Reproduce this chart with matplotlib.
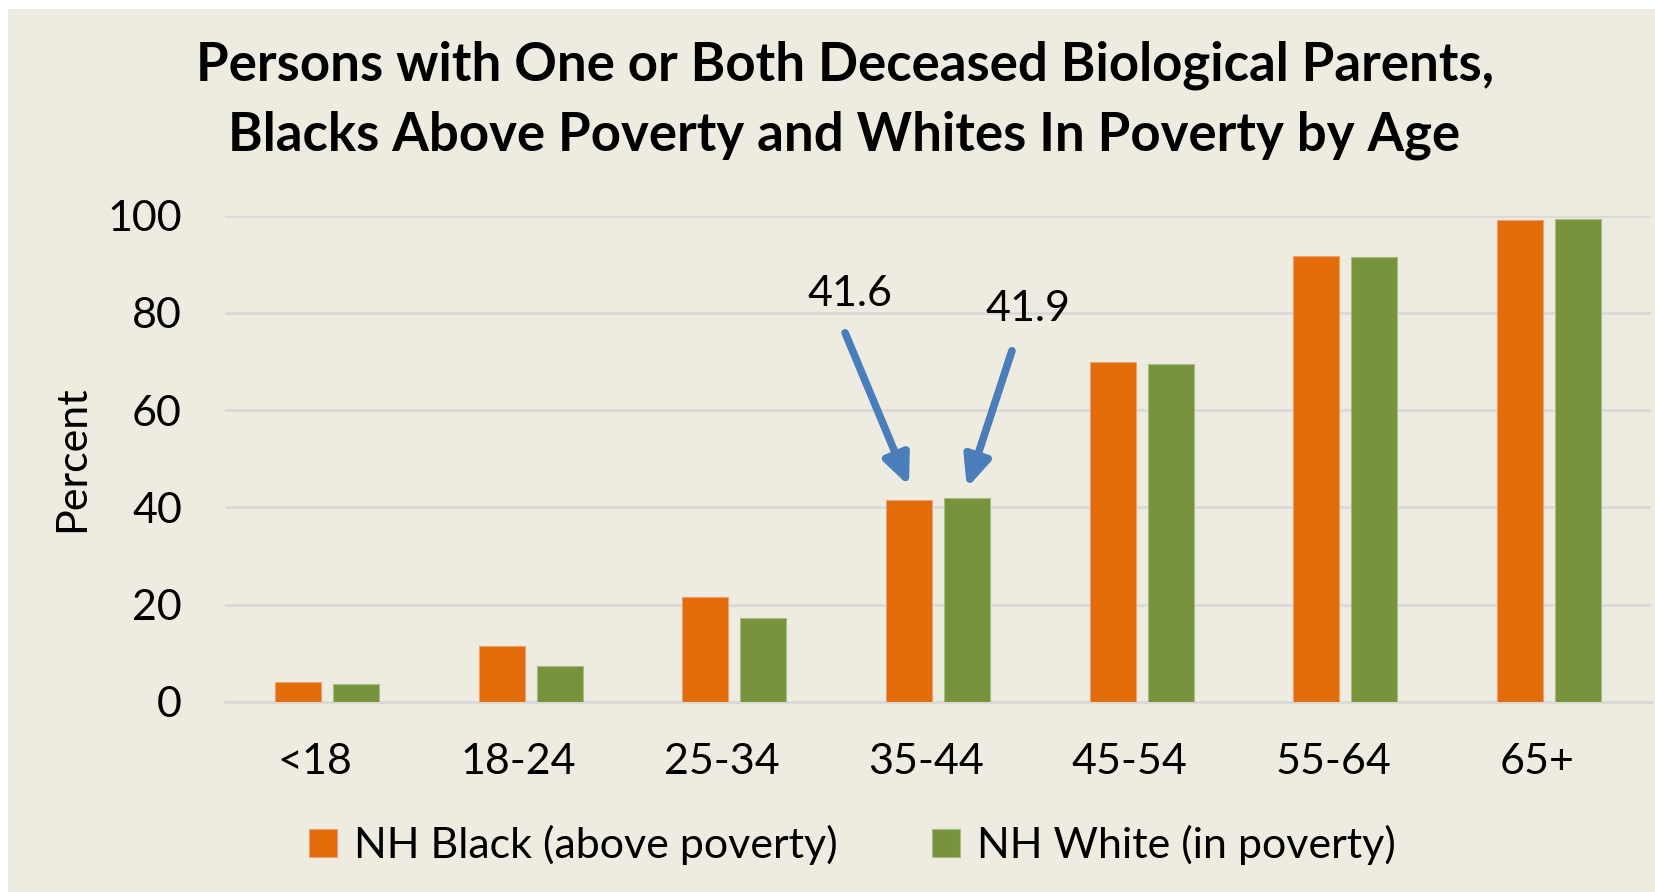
import numpy as np
import matplotlib.pyplot as plt
from matplotlib.patches import Rectangle
from matplotlib.transforms import ScaledTranslation

ages = ["<18", "18-24", "25-34", "35-44", "45-54", "55-64", "65+"]
black_above = [4.0, 11.4, 21.5, 41.6, 70.0, 91.8, 99.2]
white_poverty = [3.6, 7.4, 17.2, 41.9, 69.4, 91.6, 99.4]
yticks = [0, 20, 40, 60, 80, 100]

bg = "#EEEBE0"
orange = "#E36C0A"
green = "#77933C"
arrow_blue = "#4A7EBB"

plt.rcParams['font.family'] = ['Lato', 'DejaVu Sans']

fig = plt.figure(figsize=(16.56, 8.92), dpi=100)
fig.patch.set_facecolor("white")
# beige slide panel (thin white strip left and top)
fig.patches.append(Rectangle((8 / 1656, 0), 1, 1 - 9 / 892, transform=fig.transFigure,
                             facecolor=bg, edgecolor="none", zorder=-5))

ax = fig.add_axes([225 / 1656, 1 - 701.7 / 892, 1426 / 1656, (701.7 - 215.7) / 892])
ax.set_facecolor(bg)

x = np.arange(len(ages))
w = 46 / 203.7
off = 29 / 203.7
ax.bar(x - off, black_above, w, color=orange, edgecolor="#F0A070", linewidth=0.8,
       label="NH Black (above poverty)", zorder=3)
ax.bar(x + off, white_poverty, w, color=green, edgecolor="#A8BC80", linewidth=0.8,
       label="NH White (in poverty)", zorder=3)

ax.set_xlim(-0.5, len(ages) - 0.5)
ax.set_ylim(0, 100)
ax.set_yticks(yticks)
ax.yaxis.grid(True, color="#D9D9D9", linewidth=2, zorder=0)
ax.set_axisbelow(True)
for s in ax.spines.values():
    s.set_visible(False)
ax.spines['bottom'].set_visible(True)
ax.spines['bottom'].set_color("#D9D9D9")
ax.spines['bottom'].set_linewidth(2)
ax.tick_params(length=0)
ax.tick_params(axis='y', labelsize=31, pad=31)
ax.tick_params(axis='x', labelsize=31, pad=30)
ax.set_xticks(x)
ax.set_xticklabels(ages)
shift = ScaledTranslation(-12 / 100, 0, fig.dpi_scale_trans)
for lab in ax.get_xticklabels():
    lab.set_transform(lab.get_transform() + shift)
ax.set_ylabel("Percent", fontsize=31, labelpad=12)

# call-out arrows for 35-44
i = ages.index("35-44")
head = "-|>,head_length=0.45,head_width=0.2"
ax.text(2.57, 83.9, f"{black_above[i]}", fontsize=31, ha="center", va="center")
ax.text(3.44, 80.8, f"{white_poverty[i]}", fontsize=31, ha="center", va="center")
ax.annotate("", xy=(i - off, black_above[i] + 2.8), xytext=(2.544, 75.9),
            arrowprops=dict(arrowstyle=head, color=arrow_blue, lw=5.5,
                            shrinkA=0, shrinkB=0, mutation_scale=40))
ax.annotate("", xy=(i + off, white_poverty[i] + 2.1), xytext=(3.363, 72.2),
            arrowprops=dict(arrowstyle=head, color=arrow_blue, lw=5.5,
                            shrinkA=0, shrinkB=0, mutation_scale=40))

fig.text(0.510, 1 - 65 / 892, "Persons with One or Both Deceased Biological Parents,",
         ha="center", va="center", fontsize=38, fontweight="bold")
fig.text(0.510, 1 - 135 / 892, "Blacks Above Poverty and Whites In Poverty by Age",
         ha="center", va="center", fontsize=38, fontweight="bold")

fig.legend(loc="center", bbox_to_anchor=(0.5147, 1 - 845 / 892), ncol=2, frameon=False,
           fontsize=31, handlelength=0.65, handleheight=0.65, handletextpad=0.4,
           columnspacing=2.2)

fig.savefig("out.png", dpi=100, facecolor=fig.get_facecolor())
